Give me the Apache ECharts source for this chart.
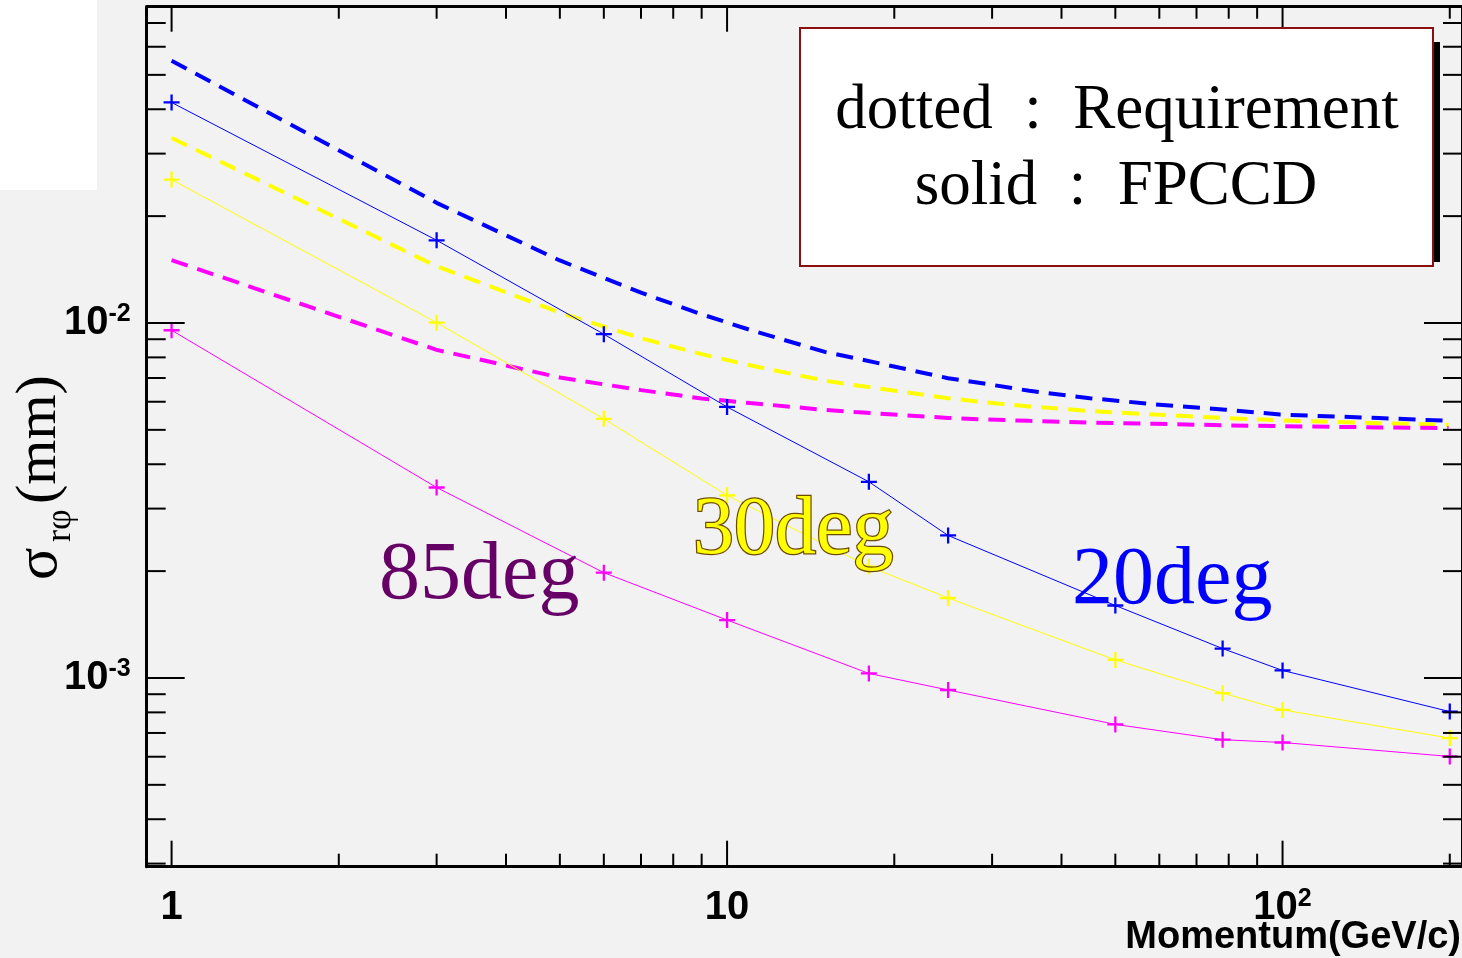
<!DOCTYPE html>
<html style="height: 100%">
<head>
    <meta charset="utf-8">
    <title>sigma r-phi vs momentum</title>
    <script src="https://cdn.jsdelivr.net/npm/echarts@6/dist/echarts.min.js"></script>
</head>
<body style="height: 100%; margin: 0; background: #f2f2f2">
    <div id="container" style="width: 1462px; height: 958px"></div>
    <script type="text/javascript">

        // FPCCD points (solid, with + markers)
        let momentum = [1, 3, 6, 10, 18, 25, 50, 78, 100, 200];
        let fpccd20 = [0.0418, 0.0171, 0.0093, 0.0058, 0.00357, 0.00252, 0.0016, 0.00121, 0.00105, 0.000804];
        let fpccd30 = [0.02535, 0.01002, 0.00537, 0.00327, 0.00206, 0.00168, 0.001124, 0.000906, 0.000813, 0.000677];
        let fpccd85 = [0.00954, 0.00344, 0.00198, 0.001456, 0.00103, 0.000925, 0.00074, 0.00067, 0.000658, 0.000601];

        // requirement curves (dashed)
        let reqMomentum = [1, 3, 5, 7, 9, 11, 15, 17, 25, 29, 35, 45, 59, 79, 99, 149, 199];
        let req20 = [0.0548, 0.0218, 0.0150, 0.01217, 0.01058, 0.00956, 0.00829, 0.00796, 0.00699, 0.00675, 0.00644, 0.00614, 0.0059, 0.0057, 0.00552, 0.0054, 0.0053];
        let req30 = [0.0332, 0.01445, 0.01069, 0.00906, 0.00817, 0.0076, 0.00688, 0.00668, 0.00614, 0.00598, 0.00582, 0.00565, 0.00552, 0.0054, 0.00532, 0.00522, 0.00517];
        let req85 = [0.01503, 0.0084, 0.00702, 0.00647, 0.00613, 0.00595, 0.00569, 0.00561, 0.0054, 0.00535, 0.0053, 0.00524, 0.0052, 0.00515, 0.00512, 0.00508, 0.00506];

        // axis ranges
        let xRange = [0.902, 210.4];
        let yRange = [2.94e-4, 0.0778];

        const BLUE = '#0000ff', YELLOW = '#ffff00', MAGENTA = '#ff00ff';
        const SANS = 'Liberation Sans';

        // tick positions 1..9 x 10^e inside the range
        function logTicks(range, eFrom, eTo) {
            let out = [];
            for (let e = eFrom; e <= eTo; e++) {
                for (let m = 1; m <= 9; m++) {
                    let v = m * Math.pow(10, e);
                    if (v >= range[0] && v <= range[1]) out.push([v, m === 1 ? 1 : 0]);
                }
            }
            return out;
        }
        let xTicks = logTicks(xRange, -1, 2).map(t => [t[0], 1e-3, t[1]]);
        let yTicks = logTicks(yRange, -4, -2).map(t => [1, t[0], t[1]]);

        function pow10Label(v) {
            let e = Math.round(Math.log10(v));
            if (Math.abs(v - Math.pow(10, e)) > 1e-6 * v) return '';
            if (e === 0) return '{b|1}';
            if (e === 1) return '{b|10}';
            return '{b|10}{s|' + e + '}';
        }

        let labelRich = {
            b: { fontFamily: SANS, fontWeight: 'bold', fontSize: 40, color: '#000', lineHeight: 42 },
            s: { fontFamily: SANS, fontWeight: 'bold', fontSize: 25, color: '#000', lineHeight: 20, verticalAlign: 'top' }
        };

        // filled plus marker
        let plus = 'path://M6,0H8V6H14V8H8V14H6V8H0V6H6Z';

        function fpSeries(name, ys, color) {
            return {
                name: name, type: 'line', z: 4,
                data: momentum.map((p, i) => [p, ys[i]]),
                symbol: plus, symbolSize: 16,
                lineStyle: { color: color, width: 1 },
                itemStyle: { color: color, borderWidth: 0 }
            };
        }
        function reqSeries(name, ys, color) {
            return {
                name: name, type: 'line', z: 3,
                data: reqMomentum.map((p, i) => [p, ys[i]]),
                symbol: 'none',
                lineStyle: { color: color, width: 4, type: [17, 10] }
            };
        }

        function xTickItem(params, api) {
            let cs = params.coordSys;
            let px = api.coord([api.value(0), api.value(1)])[0];
            let major = api.value(2) === 1;
            let bot = cs.y + cs.height;
            let lenB = major ? 26 : 13, lenT = major ? 25 : 12;
            let st = { stroke: '#000', lineWidth: 2 };
            return {
                type: 'group', children: [
                    { type: 'line', shape: { x1: px, y1: bot, x2: px, y2: bot - lenB }, style: st },
                    { type: 'line', shape: { x1: px, y1: cs.y, x2: px, y2: cs.y + lenT }, style: st }
                ]
            };
        }
        function yTickItem(params, api) {
            let cs = params.coordSys;
            let py = api.coord([api.value(0), api.value(1)])[1];
            let major = api.value(2) === 1;
            let len = major ? 38 : 19;
            let right = cs.x + cs.width;
            let st = { stroke: '#000', lineWidth: 2 };
            return {
                type: 'group', children: [
                    { type: 'line', shape: { x1: cs.x, y1: py, x2: cs.x + len, y2: py }, style: st },
                    { type: 'line', shape: { x1: right, y1: py, x2: right - len, y2: py }, style: st }
                ]
            };
        }

        let axisLine = { show: true, lineStyle: { color: '#000', width: 3 } };

        function txt(x, y, text, font, fill, align, extra) {
            return Object.assign({
                type: 'text', z: 12, x: x, y: y,
                style: { text: text, font: font, fill: fill, align: align, verticalAlign: 'middle', textAlign: align, textVerticalAlign: 'middle' }
            }, extra || {});
        }

        let chart = echarts.init(document.getElementById('container'));
        chart.setOption({
            backgroundColor: '#f2f2f2',
            animation: false,
            grid: { left: 146.7, top: 6.7, width: 1318.3, height: 860 },
            xAxis: [
                {
                    type: 'log', logBase: 10, min: xRange[0], max: xRange[1], position: 'bottom',
                    axisLine: axisLine, axisTick: { show: false }, splitLine: { show: false },
                    axisLabel: { formatter: pow10Label, rich: labelRich, margin: 20, showMinLabel: false, showMaxLabel: false }
                },
                {
                    type: 'log', logBase: 10, min: xRange[0], max: xRange[1], position: 'top',
                    axisLine: axisLine, axisTick: { show: false }, splitLine: { show: false }, axisLabel: { show: false }
                }
            ],
            yAxis: [
                {
                    type: 'log', logBase: 10, min: yRange[0], max: yRange[1], position: 'left',
                    axisLine: axisLine, axisTick: { show: false }, splitLine: { show: false },
                    axisLabel: { formatter: pow10Label, rich: labelRich, margin: 16, showMinLabel: false, showMaxLabel: false }
                },
                {
                    type: 'log', logBase: 10, min: yRange[0], max: yRange[1], position: 'right',
                    axisLine: axisLine, axisTick: { show: false }, splitLine: { show: false }, axisLabel: { show: false }
                }
            ],
            series: [
                reqSeries('req 20deg', req20, BLUE),
                reqSeries('req 30deg', req30, YELLOW),
                reqSeries('req 85deg', req85, MAGENTA),
                fpSeries('FPCCD 20deg', fpccd20, BLUE),
                fpSeries('FPCCD 30deg', fpccd30, YELLOW),
                fpSeries('FPCCD 85deg', fpccd85, MAGENTA),
                { type: 'custom', silent: true, z: 5, data: xTicks, encode: { x: 0, y: 1 }, renderItem: xTickItem },
                { type: 'custom', silent: true, z: 5, data: yTicks, encode: { x: 0, y: 1 }, renderItem: yTickItem }
            ],
            graphic: [
                { type: 'rect', shape: { x: 0, y: 0, width: 97, height: 190 }, style: { fill: '#ffffff' } },
                // legend pave
                { type: 'rect', z: 10, shape: { x: 1434, y: 42, width: 6, height: 220 }, style: { fill: '#000' } },
                { type: 'rect', z: 11, shape: { x: 800, y: 28, width: 633, height: 238 }, style: { fill: '#ffffff', stroke: '#8b0f0f', lineWidth: 2 } },
                txt(1117, 111, 'dotted  :  Requirement', '63px "Liberation Serif"', '#000', 'center'),
                txt(1116, 187, 'solid  :  FPCCD', '63px "Liberation Serif"', '#000', 'center'),
                // angle labels
                txt(379, 576, '85deg', '82px "Liberation Serif"', '#660066', 'left'),
                {
                    type: 'text', z: 12, x: 693, y: 531,
                    style: { text: '30deg', font: '82px "Liberation Serif"', fill: YELLOW, stroke: '#6e4a00', lineWidth: 2.5, align: 'left', verticalAlign: 'middle', textAlign: 'left', textVerticalAlign: 'middle' }
                },
                txt(1072, 581, '20deg', '82px "Liberation Serif"', BLUE, 'left'),
                // axis titles
                txt(1461, 938, 'Momentum(GeV/c)', 'bold 38px "Liberation Sans"', '#000', 'right'),
                txt(40, 580, 'σ', '60px "Liberation Serif"', '#000', 'left', { rotation: Math.PI / 2 }),
                txt(61, 542, 'rφ', '36px "Liberation Serif"', '#000', 'left', { rotation: Math.PI / 2 }),
                txt(40, 504, '(mm)', '58px "Liberation Serif"', '#000', 'left', { rotation: Math.PI / 2 })
            ]
        });

    </script>
</body>
</html>
